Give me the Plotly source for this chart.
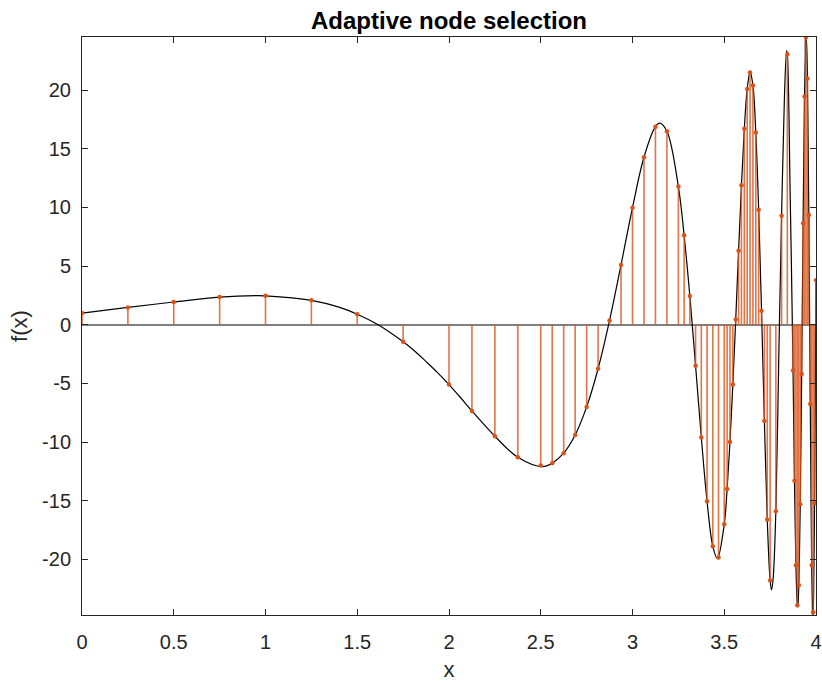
import plotly.graph_objects as go

# Smooth curve f(x), sampled along its shape (extrema and zero crossings included)
curve_x = [0.0, 0.25, 0.5, 0.75, 0.95, 1.0, 1.25, 1.4, 1.5, 1.614,
           1.75, 1.8125, 1.875, 1.9375, 2.0, 2.0625, 2.125, 2.25, 2.375, 2.51,
           2.5625, 2.625, 2.6875, 2.75, 2.8125, 2.875, 2.9375, 3.0, 3.0625, 3.125,
           3.148, 3.1875, 3.25, 3.28125, 3.3125, 3.34375, 3.375, 3.40625, 3.4375, 3.4625,
           3.5, 3.515625, 3.53125, 3.546875, 3.5625, 3.578125, 3.59375, 3.609375, 3.625, 3.640625,
           3.65625, 3.671875, 3.6875, 3.703125, 3.71875, 3.734375, 3.75, 3.7575, 3.765625, 3.78125,
           3.796875, 3.8125, 3.828125, 3.84, 3.84375, 3.859375, 3.875, 3.8789, 3.8828, 3.8867,
           3.8906, 3.8945, 3.8984, 3.9001, 3.9023, 3.9063, 3.9102, 3.9141, 3.9180, 3.9219,
           3.9258, 3.9297, 3.9336, 3.9375, 3.9414, 3.9433, 3.9453, 3.9492, 3.9531, 3.9570,
           3.9609, 3.9648, 3.9688, 3.9727, 3.9766, 3.9805, 3.9820, 3.9844, 3.9883, 3.9922,
           3.9961, 4.0]
curve_y = [1.0, 1.48, 1.94, 2.36, 2.49, 2.47, 2.08, 1.5, 0.9, 0.0,
           -1.45, -2.23, -3.14, -4.08, -5.1, -6.2, -7.35, -9.5, -11.3, -12.1,
           -11.8, -10.95, -9.4, -7.0, -3.75, 0.37, 5.1, 9.98, 14.28, 16.89,
           17.18, 16.5, 11.78, 7.63, 2.45, -3.5, -9.6, -15.05, -18.87, -19.93,
           -17.0, -14.0, -10.0, -5.1, 0.45, 6.3, 11.9, 16.7, 20.1, 21.55,
           20.4, 16.4, 9.8, 1.2, -8.2, -16.6, -21.8, -22.6, -21.8, -15.9,
           -3.0, 9.3, 19.5, 23.37, 23.06, 11.0, -3.9, -8.9, -13.3, -17.3,
           -20.5, -22.7, -23.9, -24.05, -23.8, -22.2, -19.3, -15.3, -10.0, -4.2,
           2.3, 8.65, 14.6, 19.45, 22.9, 24.53, 24.5, 23.8, 21.0, 15.8,
           9.36, 1.4, -6.75, -14.3, -20.5, -24.2, -24.74, -24.5, -21.3, -15.2,
           -6.3, 3.8]

# Nodes chosen by the adaptive scheme and f evaluated there
node_x = [0.0, 0.25, 0.5, 0.75, 1.0, 1.25, 1.5,
          1.75, 2.0, 2.125, 2.25, 2.375, 2.5, 2.5625, 2.625, 2.6875, 2.75, 2.8125,
          2.875, 2.9375, 3.0, 3.0625, 3.125, 3.1875, 3.25, 3.28125, 3.3125,
          3.34375, 3.375, 3.40625, 3.4375, 3.46875, 3.5, 3.515625, 3.53125, 3.546875,
          3.5625, 3.578125, 3.59375, 3.609375, 3.625, 3.640625, 3.65625, 3.671875, 3.6875,
          3.703125, 3.71875, 3.734375, 3.75, 3.78125, 3.8125, 3.84375,
          3.875, 3.8828, 3.8906, 3.8984, 3.9063, 3.9141, 3.9219,
          3.9297, 3.9375, 3.9453, 3.9531, 3.9609,
          3.9688, 3.9766, 3.9844, 3.9922, 4.0]
node_y = [1.0, 1.48, 1.94, 2.36, 2.47, 2.08, 0.9,
          -1.45, -5.1, -7.35, -9.5, -11.3, -12.0, -11.8, -10.95, -9.4, -7.0, -3.75,
          0.37, 5.1, 9.98, 14.28, 16.89, 16.5, 11.78, 7.63, 2.45,
          -3.5, -9.6, -15.05, -18.87, -19.84, -17.0, -14.0, -10.0, -5.1,
          0.45, 6.3, 11.9, 16.7, 20.1, 21.5, 20.4, 16.4, 9.8,
          1.2, -8.2, -16.6, -21.8, -15.9, 9.3, 23.06,
          -3.9, -13.3, -20.5, -23.9, -22.2, -15.3, -4.2,
          8.65, 19.45, 24.5, 21.0, 9.36,
          -6.75, -20.5, -24.5, -15.2, 3.8]

x_tick_vals = [0, 0.5, 1, 1.5, 2, 2.5, 3, 3.5, 4]
x_tick_text = ["0", "0.5", "1", "1.5", "2", "2.5", "3", "3.5", "4"]
y_tick_vals = [-20, -15, -10, -5, 0, 5, 10, 15, 20]
y_tick_text = ["-20", "-15", "-10", "-5", "0", "5", "10", "15", "20"]

y_range = [-24.74, 24.53]

FONT = "Liberation Sans, Arial, Helvetica, sans-serif"
AXIS_COLOR = "#262626"
STEM_COLOR = "#D95319"

# stems: one vertical segment per node, from the baseline up/down to f(node)
stem_x, stem_y = [], []
for xv, yv in zip(node_x, node_y):
    stem_x += [xv, xv, None]
    stem_y += [0, yv, None]

fig = go.Figure()
fig.add_trace(go.Scatter(
    x=curve_x, y=curve_y, mode="lines",
    line=dict(color="black", width=1.2, shape="spline", smoothing=1.0),
    hoverinfo="skip", showlegend=False))
fig.add_trace(go.Scatter(
    x=stem_x, y=stem_y, mode="lines",
    line=dict(color=STEM_COLOR, width=1.6),
    opacity=0.8,
    hoverinfo="skip", showlegend=False))
fig.add_trace(go.Scatter(
    x=node_x, y=node_y, mode="markers",
    marker=dict(color=STEM_COLOR, size=4.5, line=dict(width=0)),
    showlegend=False))

axis_common = dict(
    showgrid=False, showline=True, linecolor=AXIS_COLOR, linewidth=1,
    mirror="ticks", ticks="inside", ticklen=6, tickcolor=AXIS_COLOR, tickwidth=1,
    tickfont=dict(family=FONT, size=20, color=AXIS_COLOR),
    automargin=False,
)

fig.update_layout(
    width=822, height=682,
    margin=dict(l=82, r=6, t=37, b=67),
    paper_bgcolor="white", plot_bgcolor="white",
    title=dict(text="<b>Adaptive node selection</b>",
               font=dict(family=FONT, size=24, color="black"),
               x=0.5, xref="paper", xanchor="center",
               y=1 - 21 / 682, yref="container", yanchor="middle"),
    xaxis=dict(range=[0, 4], tickvals=x_tick_vals, ticktext=x_tick_text,
               zeroline=False, ticklabelstandoff=9,
               title=dict(text="x", font=dict(family=FONT, size=22, color=AXIS_COLOR), standoff=14),
               **axis_common),
    yaxis=dict(range=y_range, tickvals=y_tick_vals, ticktext=y_tick_text,
               zeroline=True, zerolinecolor="#808080", zerolinewidth=1.5,
               ticklabelstandoff=6,
               title=dict(text="f(x)", font=dict(family=FONT, size=22, color=AXIS_COLOR), standoff=8),
               **axis_common),
)

fig.write_html("out.html")
